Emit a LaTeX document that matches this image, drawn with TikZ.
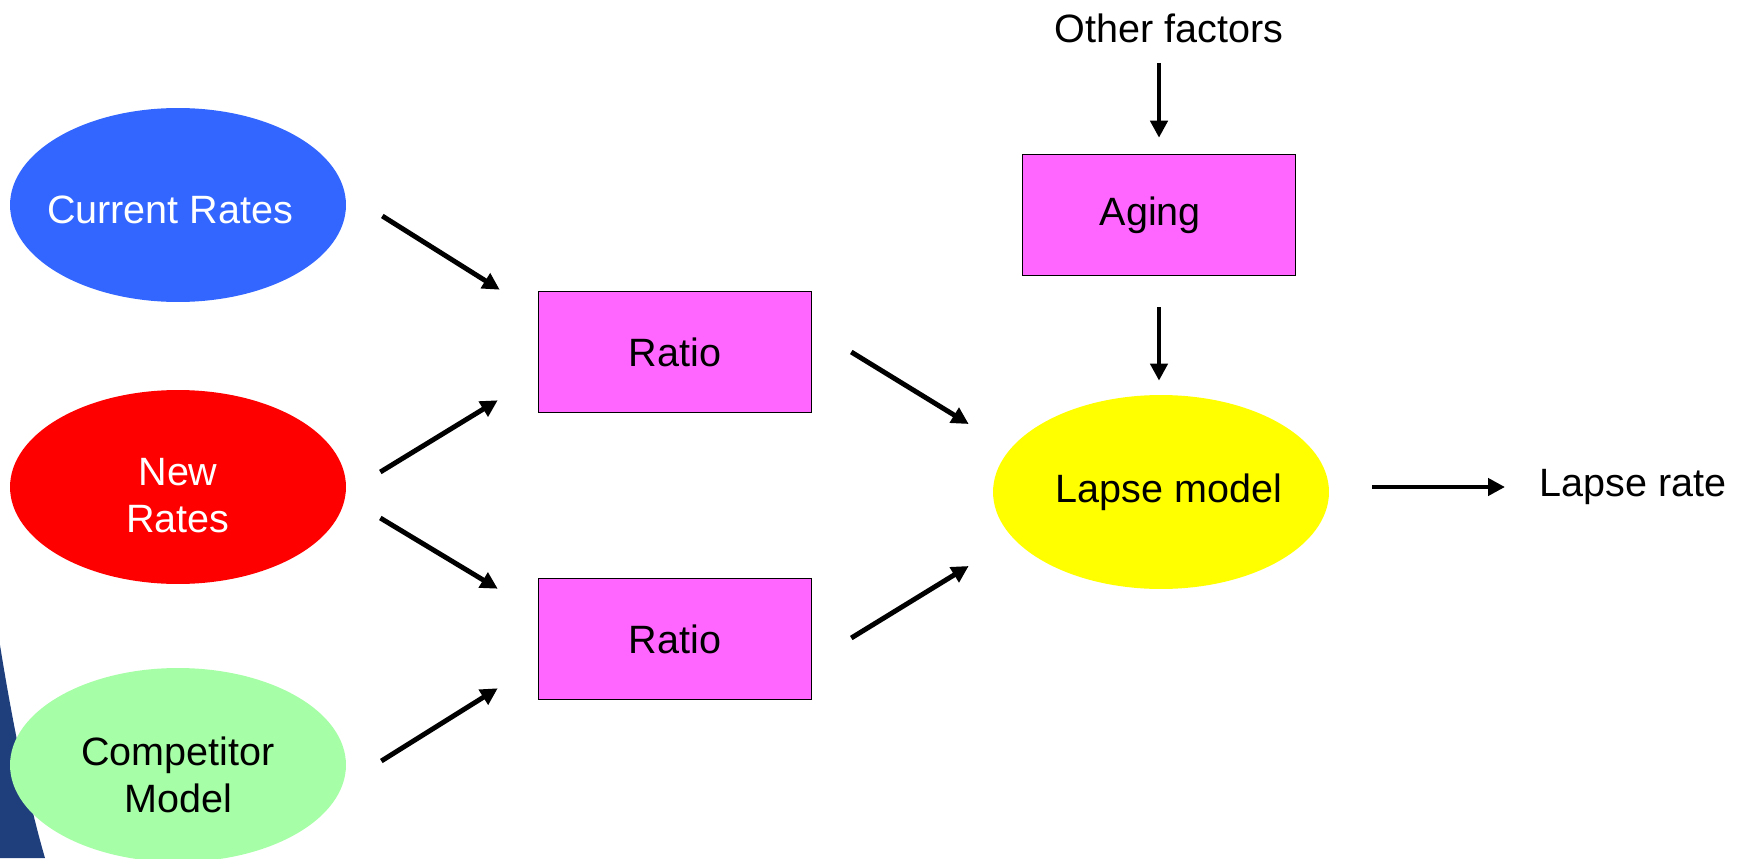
\documentclass[tikz,border=0pt]{standalone}
\usepackage{fontspec}
\setmainfont{Liberation Sans}
\usepackage{tikz}
\usetikzlibrary{arrows.meta,calc,shapes.geometric}

\definecolor{rateblue}{HTML}{3366FF}
\definecolor{ratered}{HTML}{FF0000}
\definecolor{compgreen}{HTML}{A6FFA6}
\definecolor{lapseyellow}{HTML}{FFFF00}
\definecolor{boxpink}{HTML}{FF66FF}
\definecolor{slideblue}{HTML}{1E3E7C}

\newcommand{\twolines}[2]{\begin{tabular}[b]{@{}c@{}}#1\\#2\end{tabular}}

\tikzset{
  oval/.style={ellipse,draw=none,inner sep=0pt,minimum width=6.72cm,minimum height=3.88cm,
    font=\fontsize{22.5}{27}\selectfont},
  ratiobox/.style={rectangle,draw=black,line width=0.9pt,fill=boxpink,inner sep=0pt,
    minimum width=5.46cm,minimum height=2.42cm,font=\fontsize{22.5}{27}\selectfont},
  plain/.style={inner sep=0pt,font=\fontsize{22.5}{27}\selectfont},
  arr/.style={line width=2.8pt,-{Triangle[length=0.34cm,width=0.34cm]}}
}

\begin{document}
\begin{tikzpicture}[x=0.02cm,y=-0.02cm]
\useasboundingbox (0,0) rectangle (1746,858);
% slide background corner
\fill[slideblue] (0,645) .. controls (12,720) and (28,800) .. (45,858) -- (0,858) -- cycle;
% inputs
\node[oval,fill=rateblue,text=white,text height=21.6pt,text depth=0pt] (cr) at (178,205)
  {\makebox[0pt]{Current Rates\hspace*{9pt}}};
\node[oval,fill=ratered,text=white,text height=52pt,text depth=0pt] (nr) at (178,487)
  {\twolines{New}{Rates}};
\node[oval,fill=compgreen,text height=54.4pt,text depth=0pt] (cm) at (178,765)
  {\twolines{Competitor}{Model}};
% ratios
\node[ratiobox] (r1) at (675,352) {Ratio};
\node[ratiobox] (r2) at (675,639) {Ratio};
% aging and the model
\node[plain] (of) at (1169,28) {Other factors};
\node[ratiobox] (ag) at (1159,215) {Aging\hspace*{10pt}};
\node[oval,fill=lapseyellow] (lm) at (1161,492) {\makebox[0pt]{\hspace*{9pt}Lapse model}};
\node[plain,anchor=west] (lr) at (1539,487) {Lapse rate};
% arrows
\draw[arr] ($(cr.east)+(36,11)$) -- ($(r1.north west)+(-38,-1)$);
\draw[arr] ($(nr.east)+(34,-15)$) -- ($(r1.south west)+(-40,-13)$);
\draw[arr] ($(nr.east)+(34,31)$) -- ($(r2.north west)+(-40,11)$);
\draw[arr] ($(cm.east)+(35,-4)$) -- ($(r2.south west)+(-40,-12)$);
\draw[arr] ($(r1.east)+(39,0)$) -- ($(lm.west)+(-24,-68)$);
\draw[arr] ($(r2.east)+(39,-1)$) -- ($(lm.west)+(-24,74)$);
\draw[arr] ($(of.center)+(-10,35)$) -- ($(ag.north)+(0,-16)$);
\draw[arr] ($(ag.south)+(0,31)$) -- ($(lm.north)+(-2,-14)$);
\draw[arr] ($(lm.east)+(43,-5)$) -- ($(lr.west)+(-34,0)$);
\end{tikzpicture}
\end{document}
